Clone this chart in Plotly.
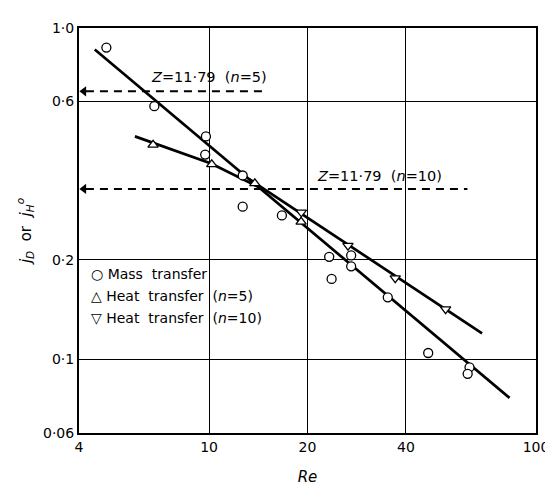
import math
import plotly.graph_objects as go

# Mass transfer (open circles)
mass_re = [4.85, 6.80, 9.78, 9.73, 12.67, 12.67, 16.7, 23.3, 23.7, 27.2, 27.2, 35.2, 46.8, 62.6, 61.8]
mass_j = [0.873, 0.581, 0.471, 0.415, 0.359, 0.289, 0.272, 0.204, 0.175, 0.206, 0.191, 0.154, 0.1046, 0.0947, 0.0905]

# Heat transfer n=5 (up triangles)
heat5_re = [6.74, 10.19, 13.8, 19.12]
heat5_j = [0.444, 0.388, 0.340, 0.260]

# Heat transfer n=10 (down triangles)
heat10_re = [19.15, 26.6, 37.1, 52.9]
heat10_j = [0.278, 0.2205, 0.176, 0.1419]

# Fitted lines
mass_line_re = [4.47, 83.0]
mass_line_j = [0.861, 0.0766]
heat5_line_re = [5.93, 10.14, 14.22]
heat5_line_j = [0.471, 0.390, 0.331]
heat10_line_re = [13.27, 68.4]
heat10_line_j = [0.350, 0.1198]

# Z = 11.79 levels
z_levels_j = [0.644, 0.327]
z_end_re = [14.92, 61.7]
z_labels = ["<i>Z</i>=11·79  (<i>n</i>=5)", "<i>Z</i>=11·79  (<i>n</i>=10)"]

x_ticks = [4, 10, 20, 40, 100]
x_ticktext = ["4", "10", "20", "40", "100"]
y_ticks = [0.06, 0.1, 0.2, 0.6, 1.0]
y_ticktext = ["0·06", "0·1", "0·2", "0·6", "1·0"]

legend_labels = ["○ Mass  transfer", "△ Heat  transfer  (<i>n</i>=5)", "▽ Heat  transfer  (<i>n</i>=10)"]

FONT = "DejaVu Sans"
L = math.log10
fig = go.Figure()

line_style = dict(color="black", width=2.7)
fig.add_trace(go.Scatter(x=mass_line_re, y=mass_line_j, mode="lines", line=line_style, showlegend=False, hoverinfo="skip"))
fig.add_trace(go.Scatter(x=heat5_line_re, y=heat5_line_j, mode="lines", line=line_style, showlegend=False, hoverinfo="skip"))
fig.add_trace(go.Scatter(x=heat10_line_re, y=heat10_line_j, mode="lines", line=line_style, showlegend=False, hoverinfo="skip"))

mk = dict(color="white", size=9, line=dict(color="black", width=1.3))
fig.add_trace(go.Scatter(x=mass_re, y=mass_j, mode="markers", name="Mass transfer", showlegend=False,
                         marker=dict(symbol="circle", **mk)))
fig.add_trace(go.Scatter(x=heat5_re, y=heat5_j, mode="markers", name="Heat transfer (n=5)", showlegend=False,
                         marker=dict(symbol="triangle-up", **mk)))
fig.add_trace(go.Scatter(x=heat10_re, y=heat10_j, mode="markers", name="Heat transfer (n=10)", showlegend=False,
                         marker=dict(symbol="triangle-down", **mk)))

# dashed Z lines with arrowheads toward the ordinate
for yv, xe in zip(z_levels_j, z_end_re):
    fig.add_shape(type="line", xref="x", yref="y", x0=4.2, x1=xe, y0=yv, y1=yv,
                  line=dict(color="black", width=2, dash="8px,6px"))
fig.add_trace(go.Scatter(x=[4.14] * len(z_levels_j), y=z_levels_j, mode="markers", showlegend=False,
                         hoverinfo="skip", marker=dict(symbol="triangle-left", size=9, color="black",
                                                       line=dict(width=0))))

fig.add_annotation(x=L(10.0), y=L(0.71), xref="x", yref="y", text=z_labels[0],
                   showarrow=False, font=dict(family=FONT, size=14.5, color="black"))
fig.add_annotation(x=L(33.2), y=L(0.357), xref="x", yref="y", text=z_labels[1],
                   showarrow=False, font=dict(family=FONT, size=14.5, color="black"))

# legend (drawn as text lines)
for i, lab in enumerate(legend_labels):
    fig.add_annotation(x=0.022, y=0.392 - i * 0.054, xref="paper", yref="paper", xanchor="left", yanchor="middle",
                       text=lab, showarrow=False, font=dict(family=FONT, size=14, color="black"))

axis_common = dict(type="log", showline=True, linecolor="black", linewidth=2, mirror=True,
                   showgrid=True, gridcolor="black", gridwidth=1, zeroline=False,
                   ticks="", tickfont=dict(family=FONT, size=14, color="black"))

fig.update_xaxes(range=[0.60206, 2.0], tickvals=x_ticks, ticktext=x_ticktext,
                 title=dict(text="<i>Re</i>", font=dict(family=FONT, size=15, color="black"), standoff=18),
                 **axis_common)
fig.update_yaxes(range=[-1.2218, 0.0], tickvals=y_ticks, ticktext=y_ticktext,
                 title=dict(text="<i>j<sub>D</sub></i>  or  <i>j<sub>H</sub><sup>o</sup></i>",
                            font=dict(family=FONT, size=15, color="black"), standoff=8),
                 **axis_common)

fig.update_layout(
    width=553, height=487,
    margin=dict(l=71, r=15, t=13, b=59),
    plot_bgcolor="white", paper_bgcolor="white",
    font=dict(family=FONT, color="black"),
    showlegend=False,
)

fig.write_html("out.html")
